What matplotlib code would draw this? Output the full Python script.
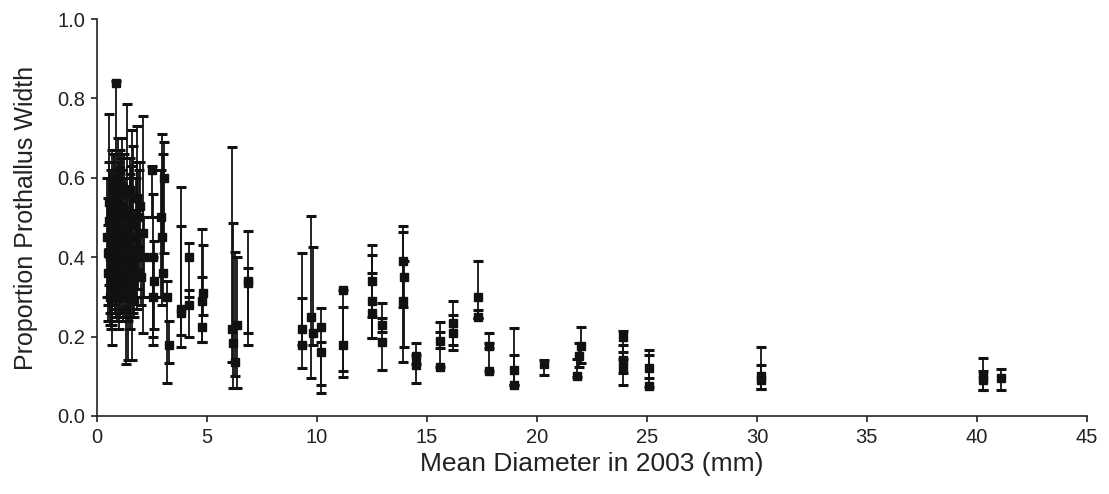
import matplotlib.pyplot as plt
import numpy as np

plt.rcParams['font.family'] = ['Liberation Sans', 'DejaVu Sans']

# Mean diameter (mm) of each plant, with mean proportion and its error bar ends
diam = [
    # dense cluster of small plants
    0.45, 0.50, 0.55, 0.60, 0.62, 0.65, 0.70, 0.72, 0.78, 0.80,
    0.85, 0.88, 0.90, 0.95, 1.00, 1.02, 1.05, 1.10, 1.15, 1.20,
    1.25, 1.30, 1.35, 1.40, 1.45, 1.50, 1.55, 1.60, 1.65, 1.70,
    1.75, 1.80, 1.85, 1.90, 2.00, 2.10, 2.15, 0.58, 0.75, 1.12,
    1.48, 1.95,
    0.48, 0.53, 0.68, 0.74, 0.82, 0.92, 0.98, 1.08, 1.18, 1.28,
    1.38, 1.52, 1.62, 1.72, 1.82, 0.66, 0.86, 1.04, 1.22, 1.42,
    # medium plants
    2.50, 2.55, 2.60, 2.55,
    2.90, 2.95, 3.00, 3.05,
    3.20, 3.25,
    3.80, 3.80,
    4.20, 4.20,
    4.75, 4.80, 4.78,
    6.15, 6.20, 6.25, 6.35,
    6.85, 6.85,
    9.30, 9.30,
    9.75, 9.80,
    10.20, 10.20,
    11.20, 11.20,
    12.50, 12.50, 12.50,
    12.95, 12.95,
    13.90, 13.90, 13.95,
    14.50, 14.50,
    15.60, 15.60,
    16.20, 16.20,
    17.30, 17.30,
    17.80, 17.80,
    18.95, 18.95,
    20.30,
    21.80, 21.90, 22.00,
    23.90, 23.90, 23.90,
    25.10, 25.10,
    30.20, 30.20,
    40.30, 40.30,
    41.10,
]

prop = [
    0.45, 0.36, 0.49, 0.40, 0.33, 0.52, 0.44, 0.38, 0.57, 0.47,
    0.84, 0.35, 0.42, 0.55, 0.30, 0.46, 0.62, 0.39, 0.50, 0.33,
    0.44, 0.27, 0.52, 0.36, 0.41, 0.31, 0.48, 0.38, 0.55, 0.29,
    0.45, 0.36, 0.42, 0.50, 0.35, 0.46, 0.40, 0.30, 0.60, 0.58,
    0.57, 0.53,
    0.41, 0.54, 0.30, 0.49, 0.37, 0.32, 0.43, 0.53, 0.40, 0.35,
    0.46, 0.50, 0.33, 0.40, 0.55, 0.58, 0.50, 0.34, 0.56, 0.30,
    0.62, 0.40, 0.34, 0.30,
    0.50, 0.45, 0.36, 0.60,
    0.30, 0.18,
    0.27, 0.26,
    0.40, 0.28,
    0.29, 0.31, 0.225,
    0.22, 0.184, 0.137, 0.23,
    0.335, 0.34,
    0.18, 0.22,
    0.25, 0.21,
    0.224, 0.16,
    0.317, 0.18,
    0.29, 0.34, 0.26,
    0.187, 0.23,
    0.39, 0.29, 0.35,
    0.128, 0.15,
    0.123, 0.19,
    0.234, 0.21,
    0.30, 0.25,
    0.113, 0.175,
    0.116, 0.078,
    0.13,
    0.10, 0.15, 0.175,
    0.20, 0.14, 0.12,
    0.075, 0.12,
    0.09, 0.10,
    0.09, 0.10,
    0.095,
]

prop_low = [
    0.30, 0.24, 0.33, 0.26, 0.22, 0.40, 0.18, 0.28, 0.45, 0.30,
    0.30, 0.25, 0.27, 0.40, 0.22, 0.33, 0.48, 0.26, 0.36, 0.24,
    0.30, 0.13, 0.34, 0.14, 0.29, 0.22, 0.33, 0.14, 0.40, 0.25,
    0.30, 0.27, 0.32, 0.37, 0.28, 0.21, 0.30, 0.23, 0.45, 0.44,
    0.45, 0.40,
    0.28, 0.42, 0.23, 0.35, 0.26, 0.24, 0.31, 0.40, 0.29, 0.25,
    0.34, 0.38, 0.26, 0.30, 0.42, 0.44, 0.37, 0.25, 0.43, 0.24,
    0.50, 0.18, 0.22, 0.20,
    0.30, 0.28, 0.30, 0.41,
    0.083, 0.134,
    0.174, 0.204,
    0.30, 0.20,
    0.186, 0.254, 0.186,
    0.137, 0.07, 0.10, 0.07,
    0.179, 0.209,
    0.121, 0.179,
    0.096, 0.179,
    0.058, 0.078,
    0.113, 0.098,
    0.196, 0.25, 0.196,
    0.116, 0.212,
    0.275, 0.136, 0.174,
    0.083, 0.13,
    0.123, 0.171,
    0.166, 0.179,
    0.247, 0.247,
    0.113, 0.171,
    0.078, 0.078,
    0.103,
    0.098, 0.123, 0.134,
    0.144, 0.108, 0.078,
    0.073, 0.096,
    0.068, 0.068,
    0.065, 0.065,
    0.065,
]

prop_high = [
    0.60, 0.48, 0.76, 0.55, 0.46, 0.62, 0.60, 0.58, 0.66, 0.62,
    0.845, 0.45, 0.60, 0.70, 0.44, 0.64, 0.67, 0.52, 0.62, 0.48,
    0.60, 0.43, 0.785, 0.50, 0.56, 0.40, 0.63, 0.72, 0.68, 0.42,
    0.60, 0.73, 0.52, 0.62, 0.46, 0.755, 0.50, 0.40, 0.66, 0.70,
    0.65, 0.64,
    0.55, 0.64, 0.40, 0.61, 0.50, 0.42, 0.56, 0.65, 0.52, 0.47,
    0.58, 0.61, 0.44, 0.52, 0.64, 0.67, 0.62, 0.45, 0.66, 0.38,
    0.63, 0.56, 0.44, 0.40,
    0.62, 0.71, 0.66, 0.69,
    0.34, 0.24,
    0.577, 0.478,
    0.436, 0.317,
    0.47, 0.43, 0.35,
    0.677, 0.486, 0.413, 0.40,
    0.466, 0.373,
    0.41, 0.297,
    0.504, 0.426,
    0.272, 0.187,
    0.317, 0.275,
    0.43, 0.405, 0.36,
    0.284, 0.247,
    0.478, 0.464, 0.39,
    0.184, 0.153,
    0.237, 0.212,
    0.29, 0.254,
    0.39, 0.267,
    0.209, 0.184,
    0.222, 0.154,
    0.14,
    0.144, 0.184, 0.224,
    0.214, 0.179, 0.161,
    0.166, 0.154,
    0.174, 0.128,
    0.146, 0.113,
    0.118,
]

x = np.array(diam)
y = np.array(prop)
yerr = np.vstack([y - np.array(prop_low), np.array(prop_high) - y])

fig = plt.figure(figsize=(11.09, 4.94), dpi=100)
ax = fig.add_axes([0.0875, 0.158, 0.8925, 0.8035])

ax.errorbar(x, y, yerr=yerr, fmt='s', color='#111111', ms=6,
            elinewidth=1.3, capsize=3.3, capthick=2.2)

ax.set_xlim(0, 45)
ax.set_ylim(0, 1.0)
ax.set_xticks(np.arange(0, 46, 5))
ax.set_yticks(np.arange(0, 1.01, 0.2))
ax.yaxis.set_major_formatter(plt.FormatStrFormatter('%.1f'))

for side in ['top', 'right']:
    ax.spines[side].set_visible(False)
for side in ['left', 'bottom']:
    ax.spines[side].set_linewidth(1.2)
    ax.spines[side].set_color('#222222')

ax.tick_params(direction='out', length=4.5, width=1.2, labelsize=14.5,
               colors='#222222', pad=4)

ax.set_xlabel('Mean Diameter in 2003 (mm)', fontsize=19, color='#222222', labelpad=4)
ax.set_ylabel('Proportion Prothallus Width', fontsize=18, color='#222222', labelpad=14)

fig.savefig('out.png', dpi=100)
